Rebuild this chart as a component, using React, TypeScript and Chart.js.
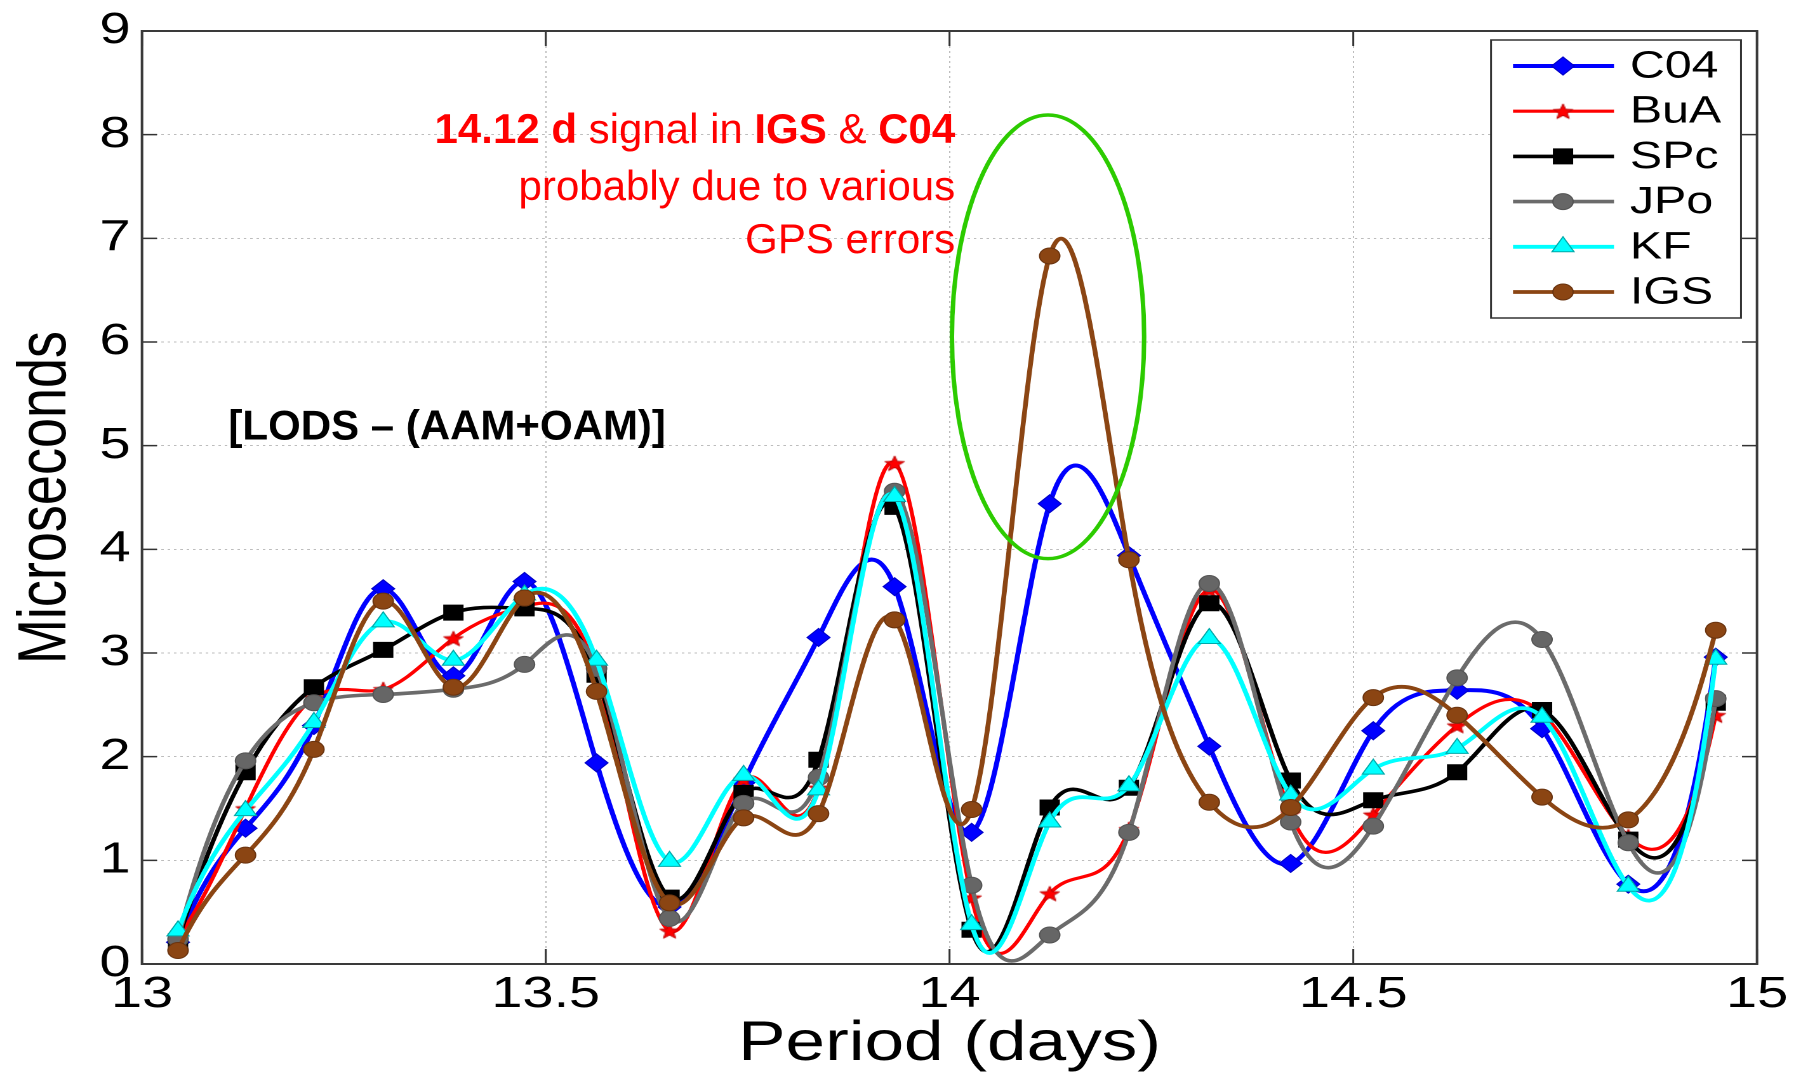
import React, { useEffect, useRef } from 'react';
import { Chart, registerables } from 'chart.js';

Chart.register(...registerables);

// ---------- data ----------
const periods = [13.0446, 13.1282, 13.2129, 13.2987, 13.3856, 13.4737, 13.5629, 13.6533, 13.745, 13.8378, 13.932, 14.0274, 14.1241, 14.2222, 14.3217, 14.4225, 14.5248, 14.6286, 14.7338, 14.8406, 14.9489];

const c04 = [0.21, 1.31, 2.30, 3.62, 2.78, 3.69, 1.94, 0.55, 1.75, 3.15, 3.64, 1.27, 4.44, 3.94, 2.10, 0.97, 2.25, 2.64, 2.27, 0.77, 2.96];
const bua = [0.26, 1.50, 2.57, 2.65, 3.14, 3.45, 2.80, 0.32, 1.78, 1.70, 4.83, 0.64, 0.68, 1.30, 3.61, 1.45, 1.44, 2.30, 2.42, 1.23, 2.40];
const spc = [0.22, 1.85, 2.67, 3.03, 3.39, 3.43, 2.79, 0.64, 1.65, 1.97, 4.41, 0.33, 1.51, 1.70, 3.48, 1.77, 1.58, 1.85, 2.45, 1.20, 2.52];
const jpo = [0.24, 1.96, 2.52, 2.60, 2.65, 2.89, 2.85, 0.44, 1.55, 1.80, 4.56, 0.76, 0.28, 1.27, 3.67, 1.37, 1.33, 2.76, 3.13, 1.17, 2.56];
const kf = [0.32, 1.48, 2.33, 3.30, 2.93, 3.56, 2.93, 0.99, 1.82, 1.68, 4.51, 0.38, 1.37, 1.72, 3.14, 1.63, 1.88, 2.08, 2.38, 0.75, 2.94];
const igs = [0.13, 1.05, 2.07, 3.50, 2.67, 3.53, 2.63, 0.59, 1.41, 1.45, 3.32, 1.49, 6.83, 3.90, 1.56, 1.51, 2.57, 2.40, 1.61, 1.39, 3.22];

const seriesLabels = ['C04', 'BuA', 'SPc', 'JPo', 'KF', 'IGS'];
const seriesValues = [c04, bua, spc, jpo, kf, igs];

const xMin = 13;
const xMax = 15;
const xStep = 0.5;
const yMin = 0;
const yMax = 9;
const yStep = 1;

const xTitle = 'Period (days)';
const yTitle = 'Microseconds';

const noteLine1: [string, boolean][] = [['14.12 d', true], [' signal in ', false], ['IGS', true], [' & ', false], ['C04', true]];
const noteLine2 = 'probably due to various';
const noteLine3 = 'GPS errors';
const noteAnchorX = 14.007;
const noteBaselinesY = [7.92, 7.37, 6.86];
const bracketNote = '[LODS \u2013 (AAM+OAM)]';
const bracketAnchor = { x: 13.107, y: 5.06 };
const ellipseSpec = { x: 14.122, y: 6.05, rx: 0.119, ry: 2.14 };

// ---------- styling / layout ----------
const FONT = "'Liberation Sans', Arial, Helvetica, sans-serif";
const OUT_W = 1808;
const OUT_H = 1076;
const CANVAS_W = 1424;
const SX = OUT_W / CANVAS_W; // horizontal stretch of the whole figure
const BOX = { left: 142, right: 1757, top: 25, bottom: 964 }; // output px

type MarkerKind = 'circle' | 'rectRot' | 'rect' | 'triangle' | 'star';
const looks: { line: string; fill: string; edge: string; marker: MarkerKind; r: number; width: number; order: number }[] = [
  { line: '#0000ff', fill: '#0000ff', edge: '#0000c8', marker: 'rectRot', r: 9, width: 4, order: 6 },
  { line: '#ff0000', fill: '#ff0000', edge: '#c80000', marker: 'star', r: 8, width: 3.2, order: 5 },
  { line: '#000000', fill: '#000000', edge: '#000000', marker: 'rect', r: 10.6, width: 3.6, order: 4 },
  { line: '#6b6b6b', fill: '#666666', edge: '#555555', marker: 'circle', r: 8, width: 3.6, order: 3 },
  { line: '#00ffff', fill: '#00ffff', edge: '#00a8a8', marker: 'triangle', r: 10, width: 3.8, order: 2 },
  { line: '#8b4513', fill: '#8b4513', edge: '#6a3410', marker: 'circle', r: 8, width: 3.8, order: 1 },
];

function starPath(ctx: CanvasRenderingContext2D, cx: number, cy: number, ro: number, ri: number) {
  ctx.beginPath();
  for (let i = 0; i < 10; i++) {
    const rr = i % 2 === 0 ? ro : ri;
    const a = -Math.PI / 2 + (i * Math.PI) / 5;
    const px = cx + rr * Math.cos(a);
    const py = cy + rr * Math.sin(a);
    if (i === 0) ctx.moveTo(px, py);
    else ctx.lineTo(px, py);
  }
  ctx.closePath();
}

function makeStar(r: number, fill: string, edge: string) {
  const size = Math.ceil(r * 2 + 4);
  const c = document.createElement('canvas');
  c.width = size;
  c.height = size;
  const g = c.getContext('2d')!;
  starPath(g, size / 2, size / 2 + r * 0.1, r, r * 0.42);
  g.fillStyle = fill;
  g.fill();
  g.strokeStyle = edge;
  g.lineWidth = 1;
  g.stroke();
  return c;
}

function drawMarker(ctx: CanvasRenderingContext2D, kind: MarkerKind, x: number, y: number, r: number, fill: string, edge: string, star?: HTMLCanvasElement) {
  ctx.save();
  ctx.fillStyle = fill;
  ctx.strokeStyle = edge;
  ctx.lineWidth = 1;
  if (kind === 'star' && star) {
    ctx.drawImage(star, x - star.width / 2, y - star.height / 2);
    ctx.restore();
    return;
  }
  ctx.beginPath();
  if (kind === 'circle') {
    ctx.arc(x, y, r, 0, Math.PI * 2);
  } else if (kind === 'rectRot') {
    ctx.moveTo(x, y - r);
    ctx.lineTo(x + r, y);
    ctx.lineTo(x, y + r);
    ctx.lineTo(x - r, y);
    ctx.closePath();
  } else if (kind === 'rect') {
    const h = r * Math.SQRT1_2;
    ctx.rect(x - h, y - h, 2 * h, 2 * h);
  } else if (kind === 'triangle') {
    for (let i = 0; i < 3; i++) {
      const a = (i * 2 * Math.PI) / 3;
      const px = x + Math.sin(a) * r;
      const py = y - Math.cos(a) * r;
      if (i === 0) ctx.moveTo(px, py);
      else ctx.lineTo(px, py);
    }
    ctx.closePath();
  }
  ctx.fill();
  ctx.stroke();
  ctx.restore();
}

function unstretched(ctx: CanvasRenderingContext2D, x: number, y: number, fn: () => void) {
  ctx.save();
  ctx.translate(x, y);
  ctx.scale(1 / SX, 1);
  fn();
  ctx.restore();
}

// Solve a small dense linear system (Gaussian elimination, partial pivoting)
function solve(A: number[][], b: number[]) {
  const n = b.length;
  const M = A.map((row, i) => [...row, b[i]]);
  for (let c = 0; c < n; c++) {
    let p = c;
    for (let r = c + 1; r < n; r++) if (Math.abs(M[r][c]) > Math.abs(M[p][c])) p = r;
    [M[c], M[p]] = [M[p], M[c]];
    for (let r = c + 1; r < n; r++) {
      const f = M[r][c] / M[c][c];
      if (f === 0) continue;
      for (let k = c; k <= n; k++) M[r][k] -= f * M[c][k];
    }
  }
  const x = new Array(n).fill(0);
  for (let r = n - 1; r >= 0; r--) {
    let s = M[r][n];
    for (let k = r + 1; k < n; k++) s -= M[r][k] * x[k];
    x[r] = s / M[r][r];
  }
  return x;
}

// Not-a-knot cubic spline slopes (as MATLAB's spline), in pixel space
function splineSlopes(xs: number[], ys: number[]) {
  const n = xs.length;
  const h: number[] = [];
  for (let i = 0; i < n - 1; i++) h.push(xs[i + 1] - xs[i]);
  const A = Array.from({ length: n }, () => new Array(n).fill(0));
  const b = new Array(n).fill(0);
  A[0][0] = -h[1];
  A[0][1] = h[0] + h[1];
  A[0][2] = -h[0];
  for (let i = 1; i < n - 1; i++) {
    A[i][i - 1] = h[i - 1];
    A[i][i] = 2 * (h[i - 1] + h[i]);
    A[i][i + 1] = h[i];
    b[i] = 6 * ((ys[i + 1] - ys[i]) / h[i] - (ys[i] - ys[i - 1]) / h[i - 1]);
  }
  A[n - 1][n - 3] = -h[n - 2];
  A[n - 1][n - 2] = h[n - 3] + h[n - 2];
  A[n - 1][n - 1] = -h[n - 3];
  const Mv = solve(A, b);
  const m: number[] = [];
  for (let i = 0; i < n - 1; i++) m.push((ys[i + 1] - ys[i]) / h[i] - (h[i] * (2 * Mv[i] + Mv[i + 1])) / 6);
  m.push((ys[n - 1] - ys[n - 2]) / h[n - 2] + (h[n - 2] * (Mv[n - 2] + 2 * Mv[n - 1])) / 6);
  return { m, h };
}

const splinePlugin = {
  id: 'matlabSpline',
  beforeDatasetsDraw(chart: any) {
    chart.data.datasets.forEach((_: any, di: number) => {
      const meta = chart.getDatasetMeta(di);
      if (!meta || meta.hidden || !meta.dataset) return;
      const pts = meta.data;
      if (!pts || pts.length < 4) return;
      const xs = pts.map((p: any) => p.x);
      const ys = pts.map((p: any) => p.y);
      const { m, h } = splineSlopes(xs, ys);
      const n = pts.length;
      for (let i = 0; i < n; i++) {
        const p = pts[i];
        if (i > 0) {
          const hp = h[i - 1];
          p.cp1x = xs[i] - hp / 3;
          p.cp1y = ys[i] - (m[i] * hp) / 3;
        } else {
          p.cp1x = xs[i];
          p.cp1y = ys[i];
        }
        if (i < n - 1) {
          const hn = h[i];
          p.cp2x = xs[i] + hn / 3;
          p.cp2y = ys[i] + (m[i] * hn) / 3;
        } else {
          p.cp2x = xs[i];
          p.cp2y = ys[i];
        }
      }
      meta.dataset._pointsUpdated = true;
      meta.dataset._path = undefined;
    });
  },
};

export default function App() {
  const ref = useRef<HTMLCanvasElement | null>(null);

  useEffect(() => {
    const canvas = ref.current;
    if (!canvas) return;
    const starImg = makeStar(8, '#ff0000', '#c00000');

    const overlay = {
      id: 'overlay',
      afterDatasetsDraw(chart: any) {
        const { ctx, scales } = chart;
        const xs = scales.x;
        const ys = scales.y;
        // green ellipse
        const cx = xs.getPixelForValue(ellipseSpec.x);
        const cy = ys.getPixelForValue(ellipseSpec.y);
        const rx = Math.abs(xs.getPixelForValue(ellipseSpec.x + ellipseSpec.rx) - cx);
        const ry = Math.abs(ys.getPixelForValue(ellipseSpec.y + ellipseSpec.ry) - cy);
        ctx.save();
        ctx.beginPath();
        ctx.ellipse(cx, cy, rx, ry, 0, 0, Math.PI * 2);
        ctx.strokeStyle = '#2ccb00';
        ctx.lineWidth = 3.5;
        ctx.stroke();
        ctx.restore();

        // red note, right aligned
        const ax = xs.getPixelForValue(noteAnchorX);
        const bold = `bold 42px ${FONT}`;
        const norm = `42px ${FONT}`;
        unstretched(ctx, ax, ys.getPixelForValue(noteBaselinesY[0]), () => {
          ctx.fillStyle = '#ff0000';
          ctx.textBaseline = 'alphabetic';
          ctx.textAlign = 'left';
          let total = 0;
          for (const [t, b] of noteLine1) {
            ctx.font = b ? bold : norm;
            total += ctx.measureText(t).width;
          }
          let px = -total;
          for (const [t, b] of noteLine1) {
            ctx.font = b ? bold : norm;
            ctx.fillText(t, px, 0);
            px += ctx.measureText(t).width;
          }
        });
        [noteLine2, noteLine3].forEach((t, i) => {
          unstretched(ctx, ax, ys.getPixelForValue(noteBaselinesY[i + 1]), () => {
            ctx.fillStyle = '#ff0000';
            ctx.font = norm;
            ctx.textAlign = 'right';
            ctx.textBaseline = 'alphabetic';
            ctx.fillText(t, 0, 0);
          });
        });
        unstretched(ctx, xs.getPixelForValue(bracketAnchor.x), ys.getPixelForValue(bracketAnchor.y), () => {
          ctx.fillStyle = '#000000';
          ctx.font = `bold 42px ${FONT}`;
          ctx.textAlign = 'left';
          ctx.textBaseline = 'alphabetic';
          ctx.fillText(bracketNote, 0, 0);
        });
      },
      afterDraw(chart: any) {
        const { ctx, chartArea: a, scales } = chart;
        ctx.save();
        // inward tick marks
        ctx.strokeStyle = '#333333';
        ctx.lineWidth = 1.5;
        ctx.beginPath();
        for (const t of scales.x.ticks) {
          const px = scales.x.getPixelForValue(t.value);
          ctx.moveTo(px, a.bottom);
          ctx.lineTo(px, a.bottom - 15);
          ctx.moveTo(px, a.top);
          ctx.lineTo(px, a.top + 15);
        }
        for (const t of scales.y.ticks) {
          const py = scales.y.getPixelForValue(t.value);
          ctx.moveTo(a.left, py);
          ctx.lineTo(a.left + 15 / SX, py);
          ctx.moveTo(a.right, py);
          ctx.lineTo(a.right - 15 / SX, py);
        }
        ctx.stroke();
        // axes box
        ctx.strokeStyle = '#3a3a3a';
        ctx.lineWidth = 2;
        ctx.strokeRect(a.left, a.top, a.right - a.left, a.bottom - a.top);

        // legend
        const L = 1491 / SX;
        const R = 1741 / SX;
        const T = 40;
        const B = 318;
        ctx.fillStyle = '#ffffff';
        ctx.fillRect(L, T, R - L, B - T);
        ctx.strokeStyle = '#333333';
        ctx.lineWidth = 1.5;
        ctx.strokeRect(L, T, R - L, B - T);
        seriesLabels.forEach((lab, i) => {
          const lk = looks[i];
          const yy = 66 + i * 45.2;
          ctx.beginPath();
          ctx.moveTo(1513 / SX, yy);
          ctx.lineTo(1614 / SX, yy);
          ctx.strokeStyle = lk.line;
          ctx.lineWidth = lk.width;
          ctx.stroke();
          drawMarker(ctx, lk.marker, 1563 / SX, yy, lk.r, lk.fill, lk.edge, starImg);
          ctx.fillStyle = '#000000';
          ctx.font = `38px ${FONT}`;
          ctx.textAlign = 'left';
          ctx.textBaseline = 'middle';
          ctx.fillText(lab, 1630 / SX, yy + 1);
        });
        ctx.restore();
      },
    };

    const datasets = seriesLabels.map((label, i) => {
      const lk = looks[i];
      return {
        label,
        data: periods.map((p, j) => ({ x: p, y: seriesValues[i][j] })),
        borderColor: lk.line,
        borderWidth: lk.width,
        backgroundColor: lk.fill,
        pointBackgroundColor: lk.fill,
        pointBorderColor: lk.edge,
        pointBorderWidth: 1,
        pointStyle: lk.marker === 'star' ? starImg : lk.marker,
        pointRadius: lk.r,
        pointHoverRadius: lk.r,
        tension: 0.4,
        fill: false,
        order: lk.order,
      };
    });

    const tickFont = { family: FONT, size: 44, lineHeight: 1 };

    const chart = new Chart(canvas, {
      type: 'line',
      data: { datasets } as any,
      options: {
        animation: false,
        responsive: false,
        devicePixelRatio: 2,
        events: [],
        layout: {
          padding: { top: BOX.top, right: CANVAS_W - BOX.right / SX, bottom: 0, left: 0 },
        },
        plugins: {
          legend: { display: false },
          tooltip: { enabled: false },
        },
        scales: {
          x: {
            type: 'linear',
            min: xMin,
            max: xMax,
            ticks: {
              stepSize: xStep,
              autoSkip: false,
              maxRotation: 0,
              padding: 9,
              color: '#000000',
              font: tickFont,
              callback: (v: any) => String(Number(v)),
            },
            grid: { color: '#bdbdbd', lineWidth: 1, drawTicks: false },
            border: { display: false, dash: [2, 3] },
            title: {
              display: true,
              text: xTitle,
              color: '#000000',
              font: { family: FONT, size: 56, lineHeight: 1 },
              padding: { top: 0, bottom: 3.5 },
            },
            afterFit: (s: any) => {
              s.height = OUT_H - BOX.bottom;
            },
          },
          y: {
            type: 'linear',
            min: yMin,
            max: yMax,
            ticks: {
              stepSize: yStep,
              padding: 9,
              color: '#000000',
              font: tickFont,
            },
            grid: { color: '#bdbdbd', lineWidth: 1, drawTicks: false },
            border: { display: false, dash: [2, 3] },
            title: {
              display: true,
              text: yTitle,
              color: '#000000',
              font: { family: FONT, size: 54, lineHeight: 1.2 },
              padding: { top: 4, bottom: 0 },
            },
            afterFit: (s: any) => {
              s.width = BOX.left / SX;
            },
          },
        },
      } as any,
      plugins: [splinePlugin, overlay],
    });

    return () => {
      chart.destroy();
    };
  }, []);

  return (
    <div style={{ position: 'fixed', left: 0, top: 0, width: OUT_W, height: OUT_H, overflow: 'hidden', background: '#ffffff' }}>
      <canvas
        ref={ref}
        width={CANVAS_W}
        height={OUT_H}
        style={{ display: 'block', width: `${OUT_W}px`, height: `${OUT_H}px` }}
      />
    </div>
  );
}
